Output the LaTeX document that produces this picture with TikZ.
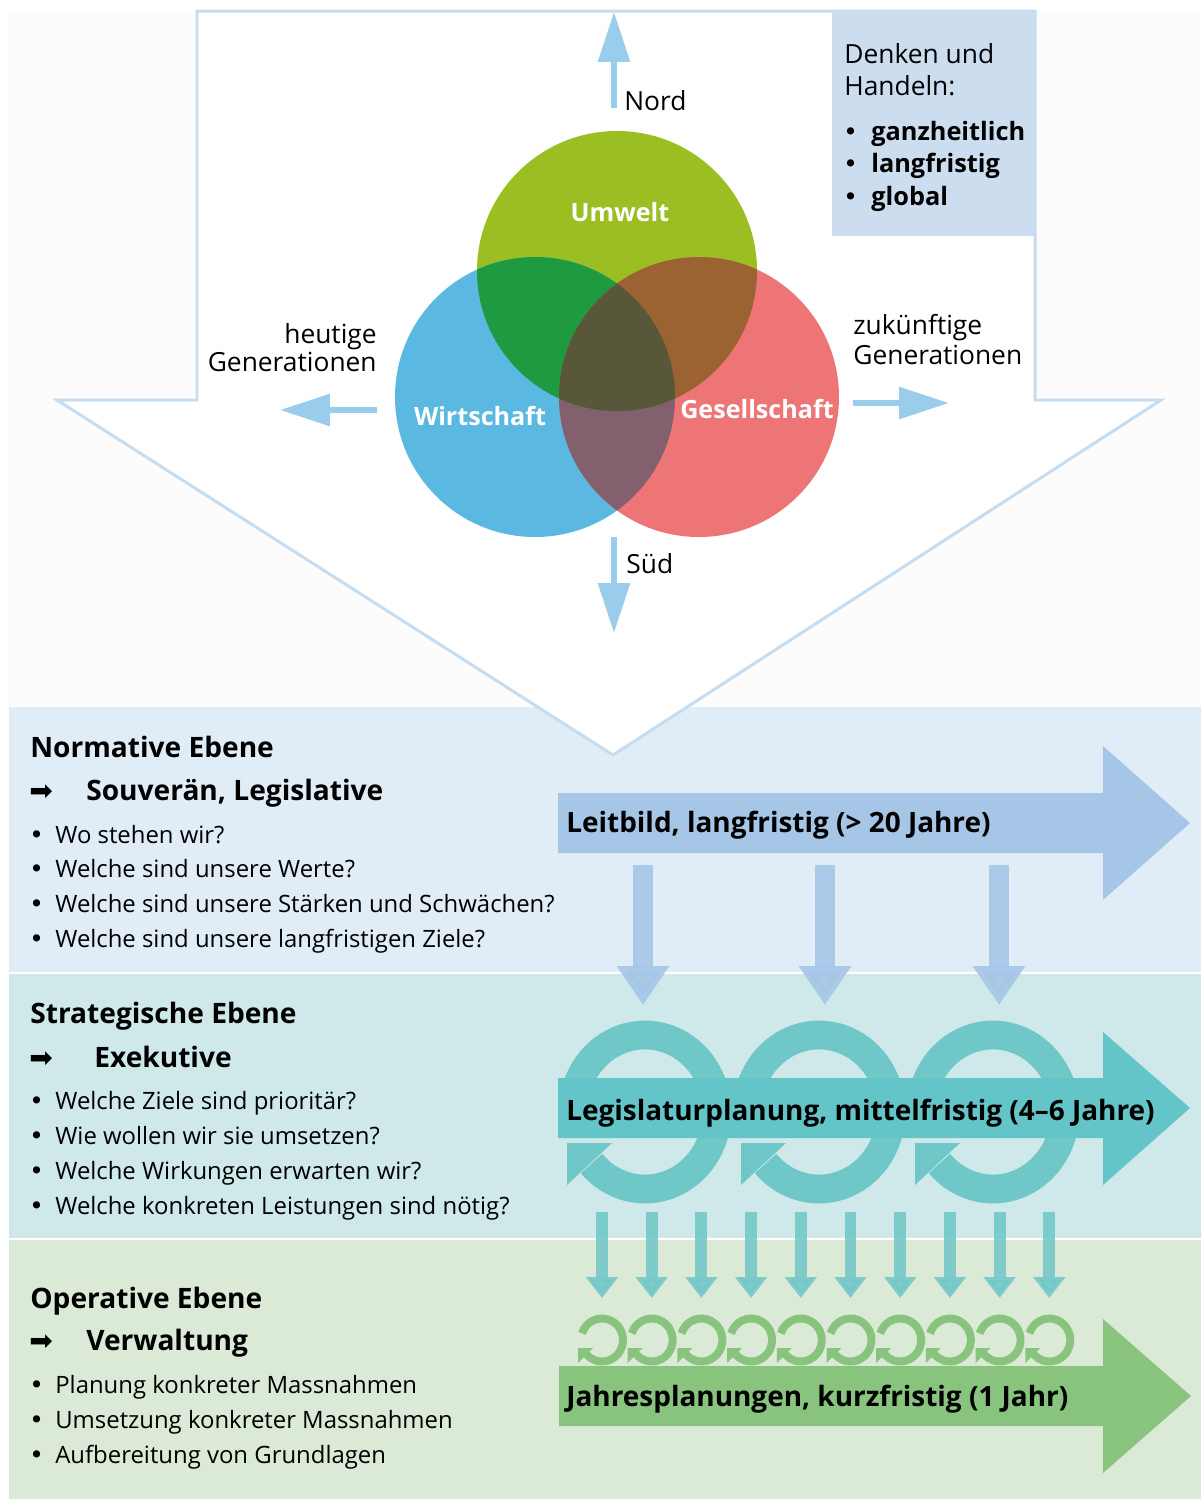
\documentclass[tikz,border=0pt]{standalone}
\usepackage{fontspec}
\setmainfont{Open Sans}
\newfontfamily\symfont{DejaVu Sans}
\usetikzlibrary{positioning, arrows.meta}

\definecolor{topbg}{HTML}{FCFCFC}
\definecolor{framebl}{HTML}{C6DDF1}
\definecolor{boxbl}{HTML}{CCDDEF}
\definecolor{pointbl}{HTML}{9ACDEB}
\definecolor{umwelt}{HTML}{9BBF22}
\definecolor{wirtschaft}{HTML}{5BB9E1}
\definecolor{gesellschaft}{HTML}{ED7575}
\definecolor{uwcol}{HTML}{1E9B40}
\definecolor{ugcol}{HTML}{9A6331}
\definecolor{wgcol}{HTML}{82606E}
\definecolor{uwgcol}{HTML}{58573A}
\definecolor{normbg}{HTML}{E0EDF7}
\definecolor{stratbg}{HTML}{CFE8EA}
\definecolor{operbg}{HTML}{DAEAD6}
\definecolor{leitbl}{HTML}{A6C6E7}
\definecolor{legiteal}{HTML}{63C5C7}
\definecolor{ringteal}{HTML}{70C7C8}
\definecolor{downteal}{HTML}{74C8C8}
\definecolor{jahrgreen}{HTML}{88C47D}

\tikzstyle{bigframe} = [draw=framebl, line width=1.7pt, fill=white]
\tikzstyle{compass} = [draw=pointbl, line width=3.4pt, -{Triangle[length=1cm, width=0.62cm]}]
\tikzstyle{plaintext} = [inner sep=0pt, font=\fontsize{15pt}{18pt}\selectfont]
\tikzstyle{plainbold} = [inner sep=0pt, font=\fontsize{14.4pt}{18pt}\selectfont\bfseries]
\tikzstyle{bigdot} = [anchor=base west, inner sep=0pt, font=\symfont\fontsize{14pt}{17pt}\selectfont]
\tikzstyle{venn} = [inner sep=0pt, text=white, font=\fontsize{14.3pt}{17pt}\selectfont\bfseries]
\tikzstyle{levelhead} = [anchor=base west, inner sep=0pt, font=\fontsize{16pt}{19pt}\selectfont\bfseries]
\tikzstyle{levelitem} = [anchor=base west, inner sep=0pt, font=\fontsize{13.6pt}{16pt}\selectfont]
\tikzstyle{pfeil} = [anchor=base west, inner sep=0pt, font=\symfont\fontsize{16pt}{18pt}\selectfont]
\tikzstyle{barlabel} = [anchor=base west, inner sep=0pt, font=\fontsize{15.9pt}{19pt}\selectfont\bfseries]
\tikzstyle{leitdrop} = [draw=leitbl, opacity=0.9, line width=11.3pt, -{Triangle[length=0.78cm, width=1cm]}]
\tikzstyle{tealdrop} = [draw=downteal, opacity=0.9, line width=6.8pt, -{Triangle[length=0.42cm, width=0.62cm]}]
\tikzstyle{bigring} = [draw=ringteal, line width=16.4pt]
\tikzstyle{smallring} = [draw=jahrgreen, line width=4.5pt]

\begin{document}
\begin{tikzpicture}[x=0.02cm, y=-0.02cm]
\useasboundingbox (0,0) rectangle (1201,1499);
\fill[white] (0,0) rectangle (1201,1499);
\fill[topbg] (8,10) rectangle (1201,707);

% Ebenen
\fill[normbg] (9,707) rectangle (1201,972);
\fill[stratbg] (9,974) rectangle (1201,1238);
\fill[operbg] (9,1240) rectangle (1201,1499);

% grosser Pfeil nach unten
\draw[bigframe] (197,11) -- (1035,11) -- (1035,400) -- (1161,400) -- (613,755) -- (57,400) -- (197,400) -- cycle;
\fill[boxbl] (832,12) rectangle (1034,236);
\node[plaintext, anchor=base west] (denken) at (844,63) {Denken und};
\node[plaintext, anchor=base west] (handeln) at (844,95) {Handeln:};
\foreach \word [count=\i] in {ganzheitlich, langfristig, global} {
  \node[bigdot] (dot\i) at (843,{140+32.5*(\i-1)}) {•};
  \node[plainbold, anchor=base west] (word\i) at (871,{140+32.5*(\i-1)}) {\word};
}

% drei Kreise
\coordinate (umw) at (617,271);
\coordinate (wir) at (535,397);
\coordinate (ges) at (699,397);
\fill[umwelt] (umw) circle[radius=140];
\fill[wirtschaft] (wir) circle[radius=140];
\fill[gesellschaft] (ges) circle[radius=140];
\begin{scope}
  \clip (wir) circle[radius=140];
  \fill[wgcol] (ges) circle[radius=140];
\end{scope}
\begin{scope}
  \clip (umw) circle[radius=140];
  \fill[uwcol] (wir) circle[radius=140];
  \fill[ugcol] (ges) circle[radius=140];
  \clip (wir) circle[radius=140];
  \fill[uwgcol] (ges) circle[radius=140];
\end{scope}
\node[venn] (umwtext) at (620,212) {Umwelt};
\node[venn] (wirtext) at (480,416) {Wirtschaft};
\node[venn] (gestext) at (757,409) {Gesellschaft};

% Himmelsrichtungen
\coordinate (nordfoot) at (614,108);
\coordinate (nordtip) at (614,12);
\coordinate (suedfoot) at (614,537);
\coordinate (suedtip) at (614,633);
\coordinate (heutefoot) at (377,410);
\coordinate (heutetip) at (280,410);
\coordinate (zukunftfoot) at (853,403);
\coordinate (zukunfttip) at (949,403);
\draw[compass] (nordfoot) -- (nordtip);
\draw[compass] (suedfoot) -- (suedtip);
\draw[compass] (heutefoot) -- (heutetip);
\draw[compass] (zukunftfoot) -- (zukunfttip);
\node[plaintext, anchor=base west] (nord) at (624,110) {Nord};
\node[plaintext, anchor=base west] (sued) at (626,573) {Süd};
\node[plaintext, anchor=base east] (heute1) at (377,343) {heutige};
\node[plaintext, anchor=base east] (heute2) at (377,371) {Generationen};
\node[plaintext, anchor=base west] (zukunft1) at (853,334) {zukünftige};
\node[plaintext, anchor=base west] (zukunft2) at (853,364) {Generationen};

% Normative Ebene
\node[levelhead] (normhead) at (30,757) {Normative Ebene};
\node[pfeil] (normarrow) at (29,800) {➡};
\node[levelhead] (normwho) at (86,800) {Souverän, Legislative};
\foreach \txt [count=\i] in {Wo stehen wir?, Welche sind unsere Werte?, Welche sind unsere Stärken und Schwächen?, Welche sind unsere langfristigen Ziele?} {
  \node[bigdot] (normdot\i) at (29,{843+34.7*(\i-1)}) {•};
  \node[levelitem] (normq\i) at (55,{843+34.7*(\i-1)}) {\txt};
}
\fill[leitbl] (558,793) -- (1103,793) -- (1103,746) -- (1190,823) -- (1103,900) -- (1103,853) -- (558,853) -- cycle;
\node[barlabel] (leitbild) at (566,832) {Leitbild, langfristig (> 20 Jahre)};
\foreach \x in {643,825,999}
  \draw[leitdrop] (\x,865) -- (\x,1005);

% Strategische Ebene
\node[levelhead] (strathead) at (30,1023) {Strategische Ebene};
\node[pfeil] (stratarrow) at (29,1067) {➡};
\node[levelhead] (stratwho) at (94,1067) {Exekutive};
\foreach \txt [count=\i] in {Welche Ziele sind prioritär?, Wie wollen wir sie umsetzen?, Welche Wirkungen erwarten wir?, Welche konkreten Leistungen sind nötig?} {
  \node[bigdot] (stratdot\i) at (29,{1109+35*(\i-1)}) {•};
  \node[levelitem] (stratq\i) at (55,{1109+35*(\i-1)}) {\txt};
}
\foreach \cx in {645,819,993} {
  \draw[bigring] (\cx,1112) ++(-165:72 and 77) arc[start angle=-165, end angle=138, x radius=72, y radius=77];
  \fill[ringteal] (\cx,1112) ++(-78,31) -- ++(45,0) -- ++(-45,42) -- cycle;
}
\fill[legiteal] (558,1078) -- (1103,1078) -- (1103,1032) -- (1190,1108) -- (1103,1185) -- (1103,1138) -- (558,1138) -- cycle;
\node[barlabel] (legislatur) at (566,1120) {Legislaturplanung, mittelfristig (4–6 Jahre)};
\foreach \i in {0,...,9}
  \draw[tealdrop] ({602+49.7*\i},1212) -- ({602+49.7*\i},1298);

% Operative Ebene
\node[levelhead] (operhead) at (30,1308) {Operative Ebene};
\node[pfeil] (operarrow) at (29,1350) {➡};
\node[levelhead] (operwho) at (86,1350) {Verwaltung};
\foreach \txt [count=\i] in {Planung konkreter Massnahmen, Umsetzung konkreter Massnahmen, Aufbereitung von Grundlagen} {
  \node[bigdot] (operdot\i) at (29,{1393+35*(\i-1)}) {•};
  \node[levelitem] (operq\i) at (55,{1393+35*(\i-1)}) {\txt};
}
\foreach \i in {0,...,9} {
  \draw[smallring] ({602+49.7*\i},1340) ++(-162:21 and 21.5) arc[start angle=-162, end angle=138, x radius=21, y radius=21.5];
  \fill[jahrgreen] ({602+49.7*\i},1340) ++(-24,8) -- ++(15,0) -- ++(-15,15) -- cycle;
}
\fill[jahrgreen] (559,1366) -- (1103,1366) -- (1103,1319) -- (1191,1396) -- (1103,1473) -- (1103,1426) -- (559,1426) -- cycle;
\node[barlabel] (jahres) at (566,1406) {Jahresplanungen, kurzfristig (1 Jahr)};
\end{tikzpicture}
\end{document}
